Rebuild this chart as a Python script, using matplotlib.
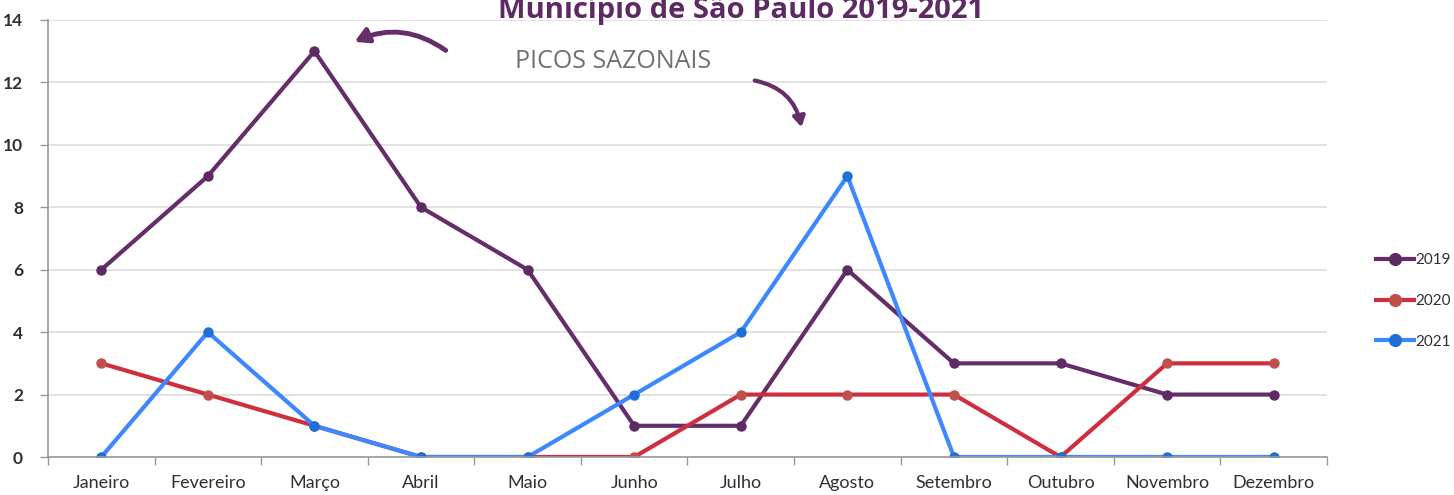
import matplotlib.pyplot as plt
import numpy as np

meses = ["Janeiro", "Fevereiro", "Março", "Abril", "Maio", "Junho",
         "Julho", "Agosto", "Setembro", "Outubro", "Novembro", "Dezembro"]
casos_2019 = [6, 9, 13, 8, 6, 1, 1, 6, 3, 3, 2, 2]
casos_2020 = [3, 2, 1, 0, 0, 0, 2, 2, 2, 0, 3, 3]
casos_2021 = [0, 4, 1, 0, 0, 2, 4, 9, 0, 0, 0, 0]
anos = ["2019", "2020", "2021"]

cores = {"2019": "#652D69", "2020": "#CF2E3F", "2021": "#3D87FF"}
cores_marker = {"2019": "#5E2A64", "2020": "#C0504D", "2021": "#1F6FD8"}

W, H = 1454, 495
fig = plt.figure(figsize=(W / 100, H / 100), dpi=100)
ax = fig.add_axes([48 / W, 1 - 457 / H, (1327 - 48) / W, (457 - 20) / H])

x = np.arange(len(meses))
for ano, vals in zip(anos, [casos_2019, casos_2020, casos_2021]):
    ax.plot(x, vals, color=cores[ano], lw=3, marker="o", ms=6.5,
            mfc=cores_marker[ano], mec=cores_marker[ano], label=ano,
            solid_joinstyle="round")

ax.set_xlim(-0.5, len(meses) - 0.5)
ax.set_ylim(0, 14)
ax.set_yticks(np.arange(0, 15, 2))
ax.set_xticks(x)
ax.set_xticklabels(meses)
ax.set_xticks(np.arange(-0.5, len(meses), 1), minor=True)
ax.tick_params(axis="x", which="major", length=0, pad=13)
ax.tick_params(axis="x", which="minor", length=6, color="#999999", width=1)
ax.tick_params(axis="y", length=6, color="#999999", width=1, pad=12)
for lab in ax.get_xticklabels():
    lab.set_fontfamily("Lato")
    lab.set_fontsize(13)
    lab.set_color("#303030")
for lab in ax.get_yticklabels():
    lab.set_fontfamily("Lato")
    lab.set_fontsize(12.5)
    lab.set_color("#303030")
    lab.set_fontweight("bold")
ax.grid(axis="y", color="#DDDDDD", lw=1.2)
ax.set_axisbelow(True)
for s in ["top", "right"]:
    ax.spines[s].set_visible(False)
ax.spines["left"].set_color("#999999")
ax.spines["bottom"].set_color("#999999")
ax.spines["left"].set_linewidth(1.2)
ax.spines["bottom"].set_linewidth(1.2)

leg = fig.legend(loc="center left", bbox_to_anchor=(1362 / W, 1 - 301 / H),
                 frameon=False, handlelength=2.5, labelspacing=1.75,
                 handletextpad=0.1, markerscale=1.3,
                 prop={"family": "Lato", "size": 11})
for t in leg.get_texts():
    t.set_color("#303030")

# titulo cortado no topo, como na imagem original
fig.text(741 / W, 1 - 18 / H, "Município de São Paulo 2019-2021",
         ha="center", va="baseline", fontsize=21, fontweight="bold",
         color="#5E2A64", family="Open Sans")

fig.text(613 / W, 1 - 61 / H, "PICOS SAZONAIS", ha="center", va="center",
         fontsize=18, color="#707070", family="Open Sans")

ax.annotate("", xy=(352, H - 43), xytext=(448, H - 52), xycoords="figure pixels",
            textcoords="figure pixels",
            arrowprops=dict(arrowstyle="-|>,head_length=0.8,head_width=0.45",
                            color="#652D69", lw=3.5,
                            connectionstyle="arc3,rad=0.3"))
ax.annotate("", xy=(802, H - 130), xytext=(752, H - 80), xycoords="figure pixels",
            textcoords="figure pixels",
            arrowprops=dict(arrowstyle="-|>,head_length=0.6,head_width=0.35",
                            color="#652D69", lw=3,
                            connectionstyle="arc3,rad=-0.35"))

fig.savefig("out.png", dpi=100)
